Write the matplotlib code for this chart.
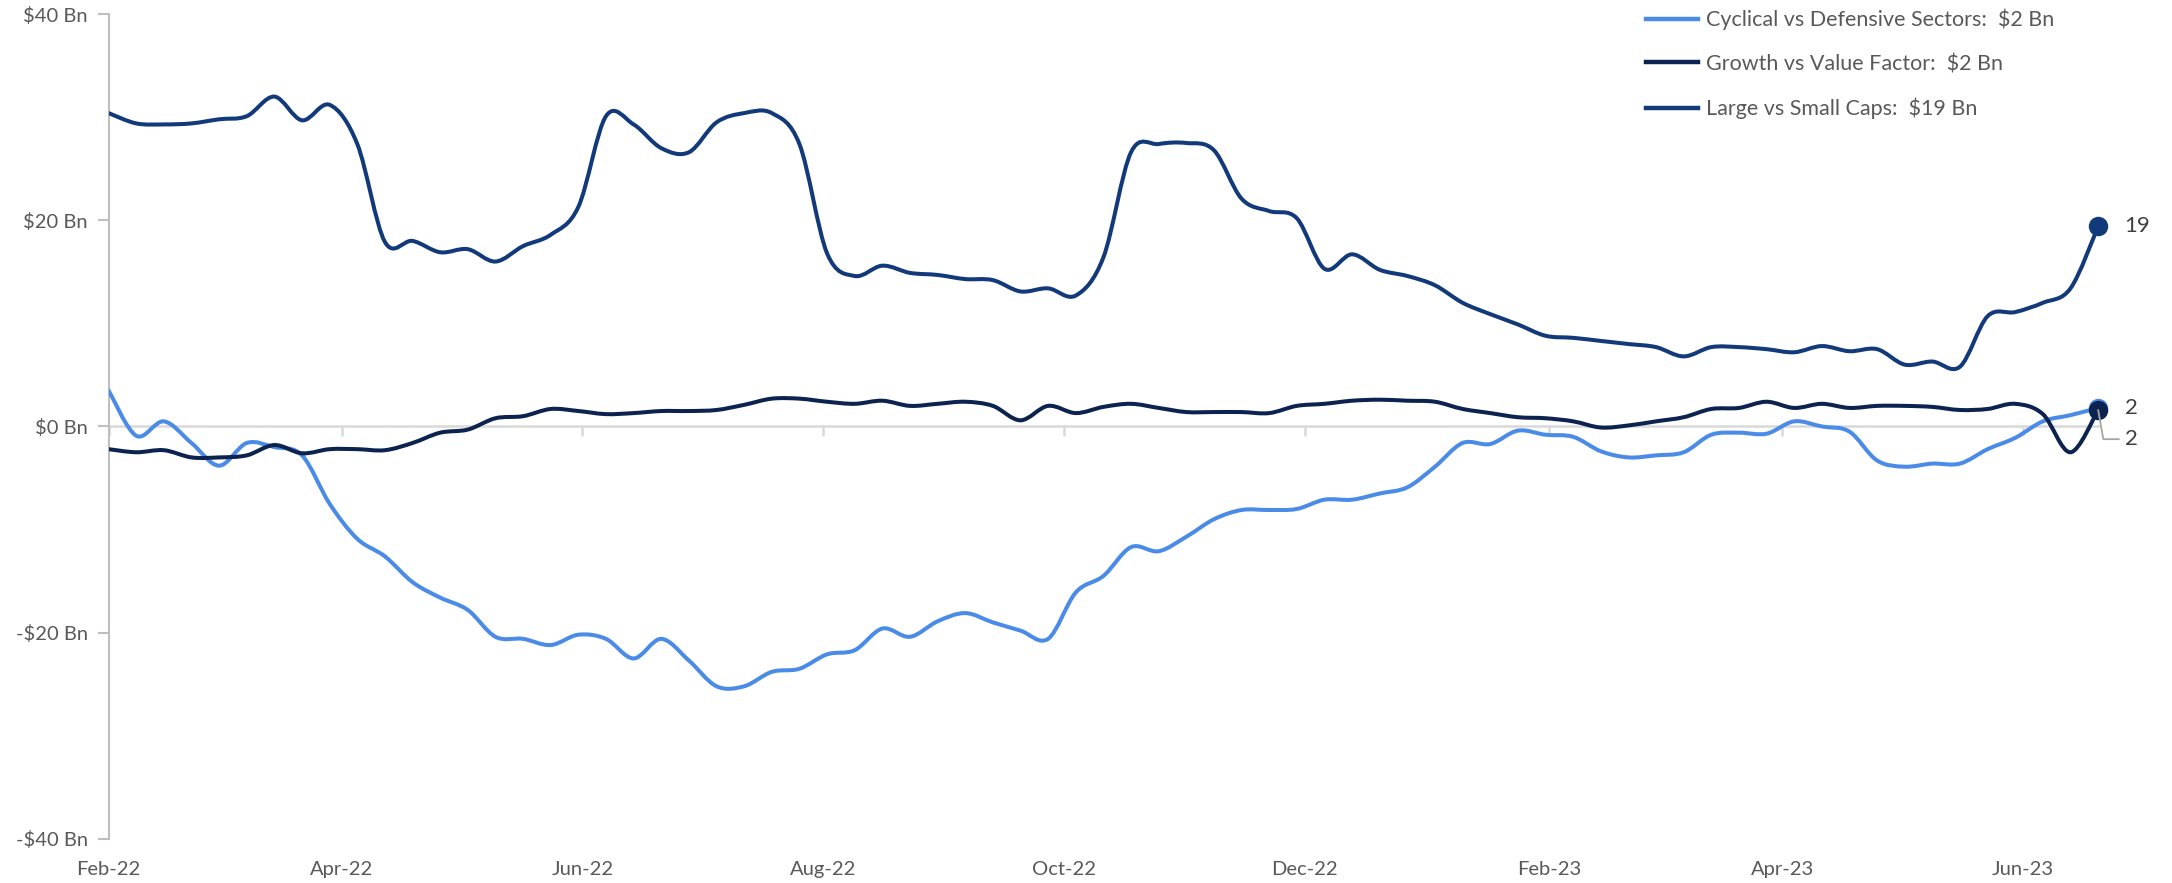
import numpy as np
import pandas as pd
import matplotlib
matplotlib.use('Agg')
from matplotlib import pyplot as plt
import matplotlib.dates as mdates
from matplotlib.path import Path
from matplotlib.patches import PathPatch
from matplotlib.lines import Line2D
from matplotlib.ticker import FuncFormatter

plt.rcParams['font.family'] = ['Lato', 'DejaVu Sans']

# weekly observations, Feb-22 .. Jun-23 ($ Bn)
dates = pd.date_range('2022-02-01', periods=73, freq='7D')

cyclical = [3.5, -0.9, 0.5, -1.6, -3.8, -1.6, -2.0, -2.8, -7.5, -10.9, -12.6, -15.1, -16.6, -17.8, -20.4,
            -20.6, -21.2, -20.2, -20.6, -22.5, -20.6, -22.7, -25.2, -25.2, -23.8, -23.5, -22.1, -21.7, -19.6, -20.4,
            -18.9, -18.1, -19.0, -19.8, -20.6, -16.1, -14.5, -11.7, -12.1, -10.7, -9.0, -8.1, -8.1, -8.0,
            -7.1, -7.1, -6.5, -5.9, -3.9, -1.6, -1.7, -0.4, -0.8, -1.0, -2.4, -3.0, -2.8, -2.5, -0.8,
            -0.6, -0.7, 0.5, 0.0, -0.5, -3.3, -3.9, -3.6, -3.6, -2.2, -1.1, 0.5, 1.1, 1.8]

growth = [-2.2, -2.5, -2.3, -3.0, -3.0, -2.8, -1.8, -2.6, -2.2, -2.2, -2.3, -1.6, -0.6, -0.3, 0.8,
          1.0, 1.7, 1.5, 1.2, 1.3, 1.5, 1.5, 1.6, 2.1, 2.7, 2.7, 2.4, 2.2, 2.5, 2.0,
          2.2, 2.4, 2.0, 0.6, 2.0, 1.3, 1.9, 2.2, 1.8, 1.4, 1.4, 1.4, 1.3, 2.0,
          2.2, 2.5, 2.6, 2.5, 2.4, 1.7, 1.3, 0.9, 0.8, 0.5, -0.1, 0.1, 0.5, 0.9, 1.7,
          1.8, 2.4, 1.8, 2.2, 1.8, 2.0, 2.0, 1.9, 1.6, 1.7, 2.2, 1.2, -2.5, 1.6]

large = [30.4, 29.4, 29.3, 29.4, 29.8, 30.1, 32.0, 29.7, 31.2, 27.4, 17.9, 18.0, 16.9, 17.2, 16.0,
         17.5, 18.6, 21.3, 30.1, 29.3, 27.0, 26.6, 29.5, 30.4, 30.4, 27.4, 16.8, 14.6, 15.6, 14.9,
         14.7, 14.3, 14.2, 13.1, 13.4, 12.7, 16.4, 26.6, 27.4, 27.5, 26.8, 22.1, 20.9, 20.2,
         15.3, 16.7, 15.2, 14.6, 13.7, 12.0, 10.9, 9.9, 8.8, 8.6, 8.3, 8.0, 7.7, 6.8, 7.7,
         7.7, 7.5, 7.2, 7.8, 7.3, 7.5, 6.0, 6.3, 5.8, 10.7, 11.1, 12.0, 13.4, 19.4]

names = ['Cyclical vs Defensive Sectors', 'Growth vs Value Factor', 'Large vs Small Caps']
colors = ['#4B8BE8', '#0C2350', '#123A7A']
series = [cyclical, growth, large]


def smooth_path(x, y):
    # Excel-style smoothed line (Catmull-Rom -> cubic bezier)
    pts = np.column_stack([x, y])
    n = len(pts)
    verts = [pts[0]]
    codes = [Path.MOVETO]
    for i in range(n - 1):
        p0 = pts[max(i - 1, 0)]
        p1 = pts[i]
        p2 = pts[i + 1]
        p3 = pts[min(i + 2, n - 1)]
        verts += [p1 + (p2 - p0) / 6, p2 - (p3 - p1) / 6, p2]
        codes += [Path.CURVE4] * 3
    return Path(verts, codes)


fig = plt.figure(figsize=(21.72, 8.83), dpi=100)
ax = fig.add_axes([0.05, 0.05, 0.916, 0.934])

xnum = mdates.date2num(dates)
handles = []
for vals, name, c in zip(series, names, colors):
    patch = PathPatch(smooth_path(xnum, vals), facecolor='none', edgecolor=c,
                      lw=2.9, capstyle='round', joinstyle='round', zorder=3)
    ax.add_patch(patch)
    handles.append(Line2D([], [], color=c, lw=3.2,
                          label=f'{name}:  ${round(vals[-1])} Bn'))

# end markers
ax.plot(xnum[-1], large[-1], 'o', ms=13, color=colors[2], zorder=5, clip_on=False)
ax.plot(xnum[-1], cyclical[-1], 'o', ms=13, color=colors[0], zorder=5, clip_on=False)
ax.plot(xnum[-1], growth[-1], 'o', ms=13, color=colors[1], zorder=6, clip_on=False)

lab_kw = dict(textcoords='offset points', va='center', ha='left', fontsize=16, color='#404040')
ax.annotate(f'{round(large[-1])}', (xnum[-1], large[-1]), xytext=(19, 0), **lab_kw)
ax.annotate(f'{round(cyclical[-1])}', (xnum[-1], cyclical[-1]), xytext=(19, 0), **lab_kw)
ax.annotate(f'{round(growth[-1])}', (xnum[-1], growth[-1]), xytext=(19, -21),
            arrowprops=dict(arrowstyle='-', color='#A6A6A6', lw=1.3, shrinkA=2, shrinkB=0,
                            connectionstyle='angle,angleA=0,angleB=100,rad=0'),
            zorder=7, **lab_kw)

ax.set_xlim(xnum[0], xnum[-1])
ax.set_ylim(-40, 40)
ax.set_yticks([-40, -20, 0, 20, 40])
ax.yaxis.set_major_formatter(FuncFormatter(lambda v, p: f'-${abs(v):.0f} Bn' if v < 0 else f'${v:.0f} Bn'))

locator = mdates.MonthLocator(bymonth=[2, 4, 6, 8, 10, 12])
ax.xaxis.set_major_locator(locator)
ax.xaxis.set_major_formatter(mdates.DateFormatter('%b-%y'))

grey = '#BFBFBF'
for s in ['top', 'right', 'bottom']:
    ax.spines[s].set_visible(False)
ax.spines['left'].set_color(grey)
ax.spines['left'].set_linewidth(1.5)
ax.tick_params(axis='y', colors=grey, length=8, width=1.5, pad=7, labelcolor='#595959', labelsize=14.5)
ax.tick_params(axis='x', length=0, pad=16, labelcolor='#595959', labelsize=14.5)

# zero axis line with its own ticks
zero_ax = ax.secondary_xaxis(0.5)
zero_ax.set_alignment('bottom')
zero_ax.xaxis.set_major_locator(mdates.MonthLocator(bymonth=[2, 4, 6, 8, 10, 12]))
zero_ax.spines['bottom'].set_color('#D9D9D9')
zero_ax.spines['bottom'].set_linewidth(1.8)
zero_ax.tick_params(axis='x', direction='out', length=7, width=1.8, color='#D9D9D9',
                    labelbottom=False, labeltop=False)

leg = fig.legend(handles=handles, loc='upper left', bbox_to_anchor=(0.758, 0.99),
                 frameon=False, fontsize=15.5, handlelength=2.4, handletextpad=0.35,
                 labelspacing=1.1, borderpad=0, borderaxespad=0)
for t in leg.get_texts():
    t.set_color('#595959')

fig.savefig('out.png', dpi=100)
